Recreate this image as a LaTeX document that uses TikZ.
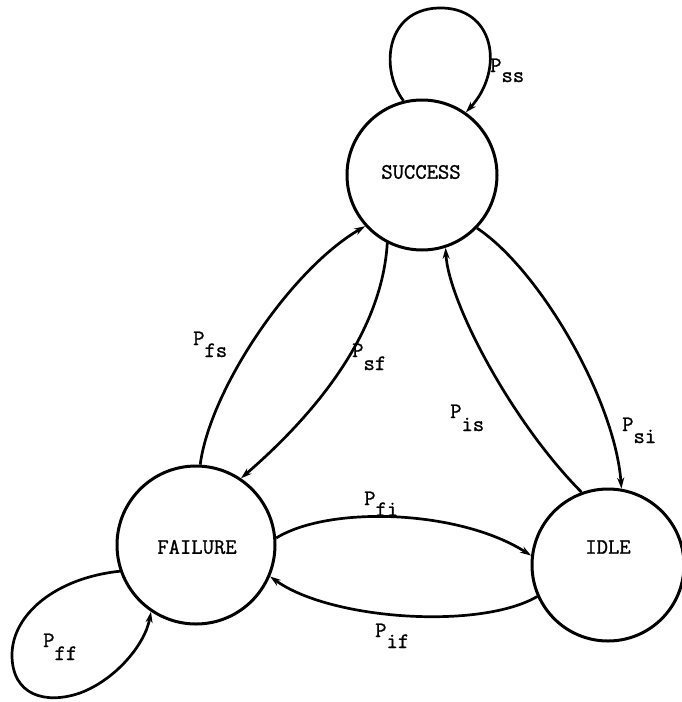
\documentclass[tikz,border=0pt]{standalone}
\usepackage{fontspec}
\newfontfamily\twfont[FakeBold=1.2]{Latin Modern Mono}
\usetikzlibrary{arrows.meta}
\begin{document}
\begin{tikzpicture}[x=1pt,y=-1pt,
  state/.style={circle,draw,line width=3pt,minimum size=#1,inner sep=0pt},
  stext/.style={inner sep=0pt,font=\fontsize{22}{26}\selectfont\twfont},
  edge/.style={line width=2.7pt,-{Stealth[length=11pt,width=7pt]}},
  lab/.style={anchor=base west,inner sep=0pt,font=\fontsize{22}{26}\selectfont\twfont}]
\useasboundingbox (0,0) rectangle (682,702);

% states
\node[state=150pt] (s) at (422,175) {};
\node[state=158pt] (f) at (196,545) {};
\node[state=152pt] (i) at (608,565) {};
\node[stext] (st) at (421,172) {SUCCESS};
\node[stext] (ft) at (197,547) {FAILURE};
\node[stext] (it) at (608,547) {IDLE};

% self loops
\draw[edge] (s.104) .. controls (380,70) and (385,10) .. (438,8)
  .. controls (495,6) and (505,70) .. (s.55);
\draw[edge] (f.199) .. controls (55,578) and (12,615) .. (12,655)
  .. controls (12,695) and (45,705) .. (80,693)
  .. controls (115,680) and (145,645) .. (f.236);

% success <-> failure
\draw[edge] (f.87) .. controls (210,390) and (290,270) .. (s.222);
\draw[edge] (s.243) .. controls (382,330) and (320,410) .. (f.56);

% success <-> idle
\draw[edge] (i.110) .. controls (510,420) and (448,300) .. (s.288);
\draw[edge] (s.316) .. controls (540,270) and (615,400) .. (i.80);

% failure <-> idle
\draw[edge] (f.5) .. controls (330,505) and (460,510) .. (i.173);
\draw[edge] (i.204) .. controls (480,630) and (330,620) .. (f.337);

% labels
\node[lab] (lss) at (490,72) {P\raisebox{-10pt}{ss}};
\node[lab] (lfs) at (193,345) {P\raisebox{-12pt}{fs}};
\node[lab] (lsf) at (352,357) {P\raisebox{-13pt}{sf}};
\node[lab] (lis) at (450,418) {P\raisebox{-13pt}{is}};
\node[lab] (lsi) at (622,431) {P\raisebox{-12pt}{si}};
\node[lab] (lfi) at (364,505) {P\raisebox{-11pt}{fi}};
\node[lab] (lif) at (375,637) {P\raisebox{-11pt}{if}};
\node[lab] (lff) at (43,647) {P\raisebox{-13pt}{ff}};
\end{tikzpicture}
\end{document}
